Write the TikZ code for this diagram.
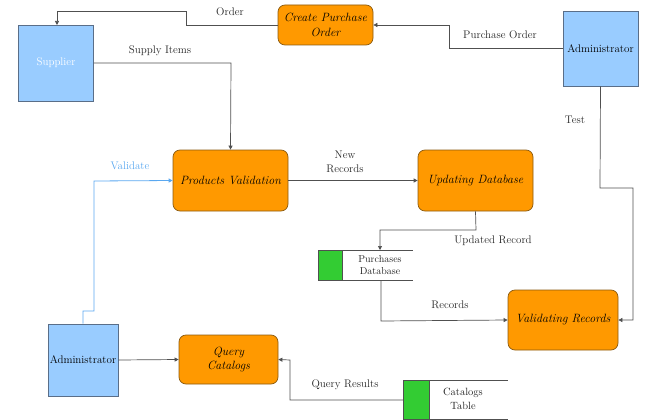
\documentclass[tikz,border=0pt]{standalone}
\usetikzlibrary{arrows.meta}
\definecolor{procfill}{HTML}{FF9900}
\definecolor{procdraw}{HTML}{8A5A10}
\definecolor{entfill}{HTML}{99CCFF}
\definecolor{entdraw}{HTML}{5A6E88}
\definecolor{storefill}{HTML}{33CC33}
\definecolor{flowcol}{HTML}{505050}
\definecolor{valcol}{HTML}{5AA8F0}
\tikzset{
  process/.style={draw=procdraw, fill=procfill, rounded corners=7pt, line width=0.7pt,
    align=center, font=\rmfamily\fontsize{12}{14.5}\selectfont\itshape, inner sep=0pt},
  entity/.style={draw=entdraw, fill=entfill, line width=0.8pt, inner sep=0pt,
    font=\rmfamily\fontsize{11}{13}\selectfont},
  storebar/.style={draw=flowcol, fill=storefill, line width=0.5pt},
  flow/.style={draw=flowcol, line width=0.7pt, -{Triangle[length=4pt,width=4pt]}},
  plainflow/.style={draw=flowcol, line width=0.7pt},
  lbl/.style={font=\rmfamily\fontsize{11}{13}\selectfont, align=center, text=black!85},
}
\begin{document}
\begin{tikzpicture}[x=1pt,y=-1pt]
\useasboundingbox (0,0) rectangle (653,420);

% external entities
\node[entity, minimum width=75pt, minimum height=76pt, text=white] (sup) at (56,63) {Supplier};
\node[entity, minimum width=75pt, minimum height=75pt] (admtop) at (600.5,48.5) {Administrator};
\node[entity, minimum width=70pt, minimum height=72pt] (admbot) at (83,360) {Administrator};

% processes
\node[process, minimum width=95pt, minimum height=40pt] (cpo) at (325.5,25) {Create Purchase\\Order};
\node[process, minimum width=115pt, minimum height=61pt] (pv) at (230.5,180.5) {Products Validation};
\node[process, minimum width=115pt, minimum height=61pt] (ud) at (475.5,180.5) {Updating Database};
\node[process, minimum width=110pt, minimum height=60pt] (vr) at (563,320) {Validating Records};
\node[process, minimum width=99pt, minimum height=49pt] (qc) at (228.5,359.5) {Query\\Catalogs};

% data stores
\node[storebar, minimum width=24pt, minimum height=30pt, inner sep=0pt] (pdbar) at (330,265) {};
\coordinate (pdtl) at (342,250);
\coordinate (pdtr) at (413,250);
\coordinate (pdbl) at (342,280);
\coordinate (pdbr) at (413,280);
\draw[plainflow, line width=0.6pt] (pdtl) -- (pdtr) (pdbl) -- (pdbr);
\node[lbl, font=\rmfamily\fontsize{10}{12.5}\selectfont] (pdtxt) at (380,265) {Purchases\\Database};

\node[storebar, minimum width=26pt, minimum height=39pt, inner sep=0pt] (ctbar) at (416,399.5) {};
\coordinate (cttl) at (429,380);
\coordinate (cttr) at (508,380);
\coordinate (ctbl) at (429,419);
\coordinate (ctbr) at (508,419);
\draw[plainflow, line width=0.6pt] (cttl) -- (cttr) (ctbl) -- (ctbr);
\node[lbl, font=\rmfamily\fontsize{10.5}{14}\selectfont] (cttxt) at (463,399) {Catalogs\\Table};

% data flows
\draw[flow] (admtop.west |- 0,48) -- (449,48) -- (449,25) -- (cpo.east);
\node[lbl] (lpo) at (500,35) {Purchase Order};

\draw[flow] (cpo.west) -- (186,25) -- (186,11) -- (57,11) -- (57,25);
\node[lbl] (lorder) at (230,12) {Order};

\draw[flow] (sup.east |- 0,63) -- (231,63) -- (pv.north);
\node[lbl] (lsupply) at (160,51) {Supply Items};

\draw[line width=0.8pt, -{Triangle[length=4pt,width=4pt]}, draw=valcol!70, color=valcol]
  (admbot.north) -- (83,311) -- (94,311) -- (94,181) -- (pv.west);
\node[lbl, text=valcol] (lval) at (130,166) {Validate};

\draw[flow] (pv.east) -- (ud.west);
\node[lbl, font=\rmfamily\fontsize{11}{14}\selectfont] (lnew) at (345,162) {New\\Records};

\draw[flow] (ud.south) -- (476,230) -- (380,230) -- (380,250);
\node[lbl] (lupd) at (493,241) {Updated Record};

\draw[flow] (381,280) -- (381,321) -- (vr.west);
\node[lbl] (lrec) at (450,305) {Records};

\draw[flow] (admtop.south) -- (600,188) -- (633,188) -- (633,320) -- (vr.east);
\node[lbl] (ltest) at (575,120) {Test};

\draw[flow] (admbot.east) -- (qc.west);

\draw[flow] (ctbar.west |- 0,400) -- (290,400) -- (290,360) -- (qc.east);
\node[lbl] (lqr) at (345,385) {Query Results};
\end{tikzpicture}
\end{document}
